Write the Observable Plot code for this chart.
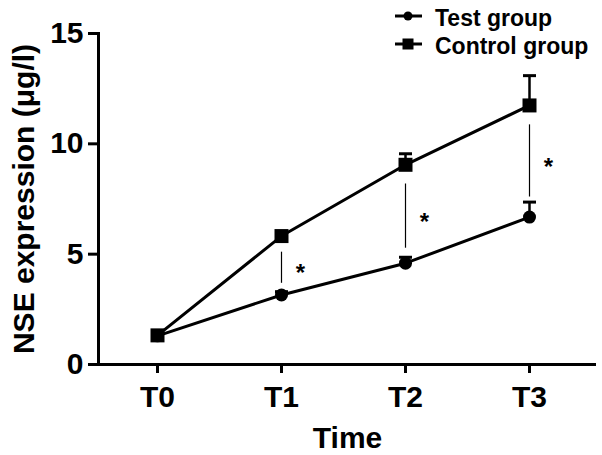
<!DOCTYPE html>
<html>
<head>
<meta charset="utf-8">
<script src="https://cdn.jsdelivr.net/npm/d3@7"></script>
<script src="https://cdn.jsdelivr.net/npm/@observablehq/plot@0.6"></script>
<style>
  html, body { margin: 0; padding: 0; background: #fff; }
  #wrap { position: relative; width: 602px; height: 455px; font-family: "Liberation Sans", Arial, sans-serif; }
  #legend { position: absolute; left: 380px; top: 0px; }
</style>
</head>
<body>
<div id="wrap"></div>
<script>
// ---- data ----
const times = ["T0", "T1", "T2", "T3"];
const testMean = [1.30, 3.15, 4.59, 6.68];
const testErr = [0.10, 0.15, 0.27, 0.68];
const controlMean = [1.32, 5.82, 9.05, 11.74];
const controlErr = [0.10, 0.20, 0.50, 1.35];
const seriesNames = ["Test group", "Control group"];
const sigTimes = ["T1", "T2", "T3"];
const sigLow = [3.68, 5.27, 7.59];
const sigHigh = [5.09, 8.18, 10.86];
const sigMark = "*";
const yTicks = [0, 5, 10, 15];

const test = times.map((t, i) => ({time: t, mean: testMean[i], top: testMean[i] + testErr[i]}));
const control = times.map((t, i) => ({time: t, mean: controlMean[i], top: controlMean[i] + controlErr[i]}));
const sig = sigTimes.map((t, i) => ({time: t, low: sigLow[i], high: sigHigh[i]}));

const capSymbol = {
  draw(context, size) {
    const r = Math.sqrt(size / Math.PI);
    context.moveTo(-r, 0);
    context.lineTo(r, 0);
  }
};

const font = "Liberation Sans, Arial, sans-serif";

const chart = Plot.plot({
  width: 602,
  height: 455,
  marginTop: 33,
  marginBottom: 91,
  marginLeft: 98,
  marginRight: 6,
  style: {fontFamily: font, background: "white", color: "black"},
  x: {type: "point", domain: times, padding: 0.5, align: 0.47},
  y: {domain: [0, 15]},
  marks: [
    Plot.axisY({ticks: yTicks, tickSize: 10, tickPadding: 5, strokeWidth: 3, fontSize: 30, fontWeight: "bold", label: null}),
    Plot.axisX({tickSize: 9, tickPadding: 12, strokeWidth: 3, fontSize: 30, fontWeight: "bold", label: null}),
    Plot.frame({anchor: "left", strokeWidth: 3}),
    Plot.ruleY([0], {strokeWidth: 3}),
    Plot.text(["Time"], {frameAnchor: "bottom", lineAnchor: "bottom", dy: 83, fontSize: 30, fontWeight: "bold"}),
    Plot.text(["NSE expression (μg/l)"], {frameAnchor: "left", textAnchor: "middle", lineAnchor: "bottom", rotate: -90, dx: -65, fontSize: 30, fontWeight: "bold"}),
    // significance
    Plot.ruleX(sig, {x: "time", y1: "low", y2: "high", strokeWidth: 1.2}),
    Plot.text(sig, {x: "time", y: d => (d.low + d.high) / 2, text: () => sigMark, dx: 19, dy: 6, fontSize: 24, fontWeight: "bold"}),
    // test group
    Plot.line(test, {x: "time", y: "mean", strokeWidth: 3}),
    Plot.ruleX(test, {x: "time", y1: "mean", y2: "top", strokeWidth: 2.5}),
    Plot.dot(test, {x: "time", y: "top", symbol: capSymbol, r: 6.5, stroke: "black", strokeWidth: 3, fill: "none"}),
    Plot.dot(test, {x: "time", y: "mean", symbol: "circle", r: 6.5, fill: "black", stroke: null}),
    // control group
    Plot.line(control, {x: "time", y: "mean", strokeWidth: 3}),
    Plot.ruleX(control, {x: "time", y1: "mean", y2: "top", strokeWidth: 2.5}),
    Plot.dot(control, {x: "time", y: "top", symbol: capSymbol, r: 6.5, stroke: "black", strokeWidth: 3, fill: "none"}),
    Plot.dot(control, {x: "time", y: "mean", symbol: "square", r: 7.9, fill: "black", stroke: null})
  ]
});

const wrap = document.getElementById("wrap");
wrap.appendChild(chart);

// legend (drawn beside the plot, over its top-right corner)
const ns = "http://www.w3.org/2000/svg";
const lg = document.createElementNS(ns, "svg");
lg.setAttribute("id", "legend");
lg.setAttribute("width", 222);
lg.setAttribute("height", 60);
lg.setAttribute("font-family", font);
const rowH = 28;
seriesNames.forEach((name, i) => {
  const cy = 16 + i * rowH;
  const g = document.createElementNS(ns, "g");
  g.innerHTML =
    `<line x1="15" y1="${cy}" x2="42" y2="${cy}" stroke="black" stroke-width="3"/>` +
    (i === 0
      ? `<circle cx="28" cy="${cy}" r="4.5" fill="black"/>`
      : `<rect x="22.5" y="${cy - 5.5}" width="11" height="11" fill="black"/>`) +
    `<text x="55" y="${cy + 10}" font-size="23" font-weight="bold" fill="black">${name}</text>`;
  lg.appendChild(g);
});
wrap.appendChild(lg);
</script>
</body>
</html>
